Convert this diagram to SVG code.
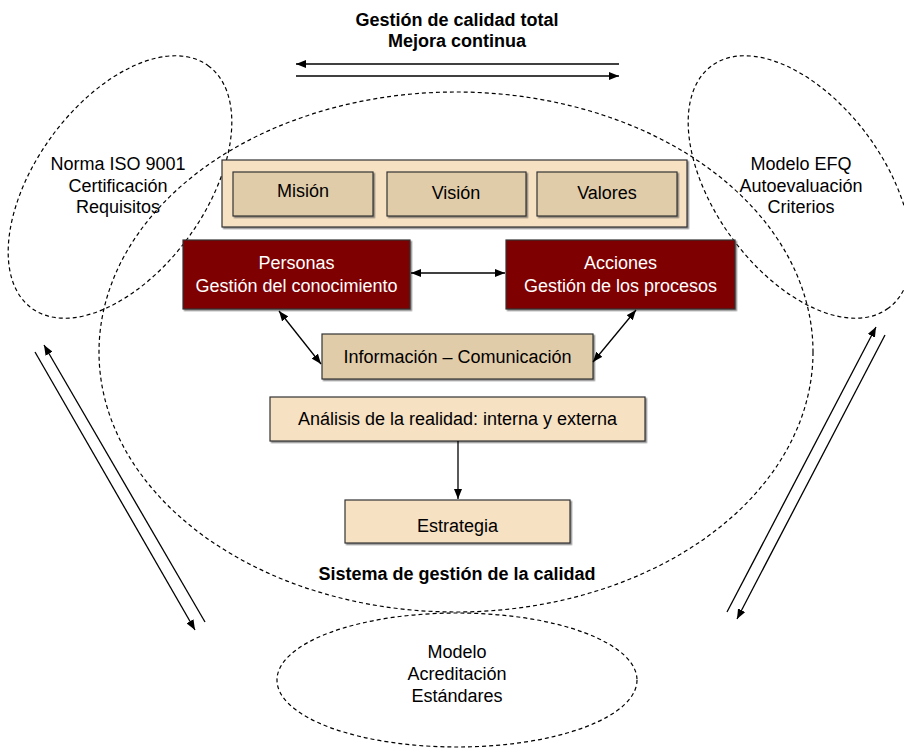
<svg xmlns="http://www.w3.org/2000/svg" width="904" height="752" viewBox="0 0 904 752">
  <style>
    .zone { fill: none; stroke: #000; stroke-width: 1.2; stroke-dasharray: 4 3; }
    .box-light { fill: #f6e1c3; stroke: #333; stroke-width: 1.2; filter: url(#shadow); }
    .box-mid { fill: #e0cca9; stroke: #333; stroke-width: 1.2; filter: url(#shadow); }
    .box-red { fill: #7f0000; stroke: #333; stroke-width: 1.2; filter: url(#shadow); }
    .lbl { font-family: "Liberation Sans", Arial, sans-serif; font-size: 18px; fill: #000; text-anchor: middle; }
    .lbl-w { font-family: "Liberation Sans", Arial, sans-serif; font-size: 18px; fill: #fff; text-anchor: middle; }
    .hdr { font-family: "Liberation Sans", Arial, sans-serif; font-size: 18px; font-weight: bold; fill: #000; text-anchor: middle; }
    .link { fill: none; stroke: #000; stroke-width: 1.3; }
  </style>
  <defs>
    <filter id="shadow" x="-5%" y="-5%" width="110%" height="115%">
      <feDropShadow dx="1.5" dy="1.5" stdDeviation="0.7" flood-color="#444" flood-opacity="0.6"/>
    </filter>
    <marker id="head" viewBox="0 0 10 8" refX="10" refY="4" markerWidth="10" markerHeight="8" markerUnits="userSpaceOnUse" orient="auto-start-reverse">
      <path d="M0,0 L10,4 L0,8 Z" fill="#000"/>
    </marker>
  </defs>

  <!-- dashed areas -->
  <g id="zones">
    <ellipse class="zone" cx="456" cy="352" rx="357" ry="260"/>
    <ellipse class="zone" cx="120" cy="187" rx="150" ry="85" transform="rotate(-54 120 187)"/>
    <ellipse class="zone" cx="800" cy="187" rx="150" ry="85" transform="rotate(54 800 187)"/>
    <ellipse class="zone" cx="457" cy="680" rx="180" ry="67"/>
  </g>

  <!-- headings -->
  <g id="title">
    <text class="hdr" x="457" y="26">Gestión de calidad total</text>
    <text class="hdr" x="457" y="47">Mejora continua</text>
  </g>
  <g id="sistema">
    <text class="hdr" x="457" y="580">Sistema de gestión de la calidad</text>
  </g>

  <!-- model areas -->
  <g id="iso">
    <text class="lbl" x="118" y="170">Norma ISO 9001</text>
    <text class="lbl" x="118" y="192">Certificación</text>
    <text class="lbl" x="118" y="213">Requisitos</text>
  </g>
  <g id="efq">
    <text class="lbl" x="801" y="170">Modelo EFQ</text>
    <text class="lbl" x="801" y="192">Autoevaluación</text>
    <text class="lbl" x="801" y="213">Criterios</text>
  </g>
  <g id="acreditacion">
    <text class="lbl" x="457" y="658">Modelo</text>
    <text class="lbl" x="457" y="680">Acreditación</text>
    <text class="lbl" x="457" y="702">Estándares</text>
  </g>

  <!-- boxes -->
  <g id="marco">
    <rect class="box-light" x="222" y="160" width="465" height="67"/>
  </g>
  <g id="mision">
    <rect class="box-mid" x="233" y="172" width="140" height="44"/>
    <text class="lbl" x="303" y="197">Misión</text>
  </g>
  <g id="vision">
    <rect class="box-mid" x="387" y="172" width="139" height="44"/>
    <text class="lbl" x="456" y="199">Visión</text>
  </g>
  <g id="valores">
    <rect class="box-mid" x="537" y="172" width="140" height="44"/>
    <text class="lbl" x="607" y="199">Valores</text>
  </g>
  <g id="personas">
    <rect class="box-red" x="183" y="240" width="227" height="69"/>
    <text class="lbl-w" x="296.5" y="269">Personas</text>
    <text class="lbl-w" x="296.5" y="292">Gestión del conocimiento</text>
  </g>
  <g id="acciones">
    <rect class="box-red" x="506" y="240" width="229" height="69"/>
    <text class="lbl-w" x="620.5" y="269">Acciones</text>
    <text class="lbl-w" x="620.5" y="292">Gestión de los procesos</text>
  </g>
  <g id="informacion">
    <rect class="box-mid" x="322" y="334" width="271" height="45"/>
    <text class="lbl" x="457.5" y="363">Información – Comunicación</text>
  </g>
  <g id="analisis">
    <rect class="box-light" x="270" y="397" width="375" height="44"/>
    <text class="lbl" x="457.5" y="425">Análisis de la realidad: interna y externa</text>
  </g>
  <g id="estrategia">
    <rect class="box-light" x="345" y="500" width="225" height="43"/>
    <text class="lbl" x="457.5" y="532">Estrategia</text>
  </g>

  <!-- connectors -->
  <g id="connectors">
    <line class="link" x1="619" y1="64" x2="296" y2="64" marker-end="url(#head)"/>
    <line class="link" x1="296" y1="76" x2="619" y2="76" marker-end="url(#head)"/>
    <line class="link" x1="411" y1="273" x2="505" y2="273" marker-start="url(#head)" marker-end="url(#head)"/>
    <line class="link" x1="279" y1="311" x2="321" y2="364" marker-start="url(#head)" marker-end="url(#head)"/>
    <line class="link" x1="636" y1="310" x2="593" y2="362" marker-start="url(#head)" marker-end="url(#head)"/>
    <line class="link" x1="458" y1="441" x2="458" y2="499" marker-end="url(#head)"/>
    <line class="link" x1="205" y1="622" x2="44" y2="345" marker-end="url(#head)"/>
    <line class="link" x1="35" y1="352" x2="195" y2="630" marker-end="url(#head)"/>
    <line class="link" x1="727" y1="612" x2="876" y2="327" marker-end="url(#head)"/>
    <line class="link" x1="885" y1="335" x2="737" y2="619" marker-end="url(#head)"/>
  </g>
</svg>
